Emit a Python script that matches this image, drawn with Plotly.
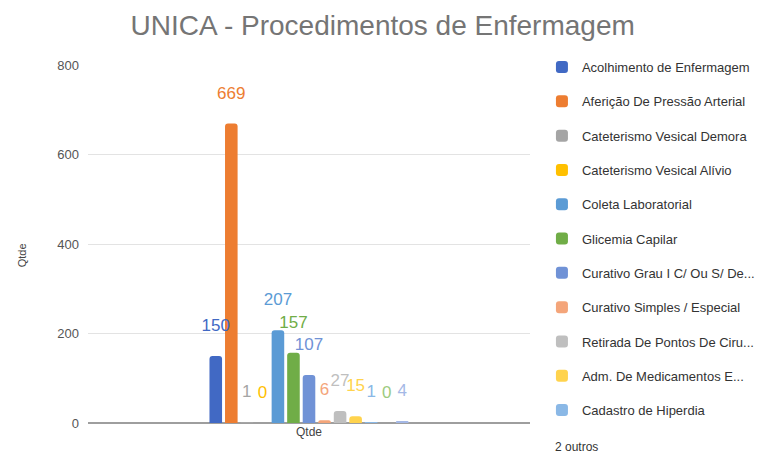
import plotly.graph_objects as go

category = ["Qtde"]
series_names = [
    "Acolhimento de Enfermagem",
    "Aferição De Pressão Arterial",
    "Cateterismo Vesical Demora",
    "Cateterismo Vesical Alívio",
    "Coleta Laboratorial",
    "Glicemia Capilar",
    "Curativo Grau I C/ Ou S/ De...",
    "Curativo Simples / Especial",
    "Retirada De Pontos De Ciru...",
    "Adm. De Medicamentos E...",
    "Cadastro de Hiperdia",
    "Outro 1",
    "Outro 2",
]
series_values = [150, 669, 1, 0, 207, 157, 107, 6, 27, 15, 1, 0, 4]
series_colors = [
    "#4169c4", "#ed7d31", "#a5a5a5", "#ffc000", "#5b9bd5", "#70ad47",
    "#7092d6", "#f4a57a", "#bfbfbf", "#ffd34d", "#8ab8e6", "#9ccb7f", "#a4b8e6",
]
shown_in_legend = 11
y_ticks = [0, 200, 400, 600, 800]

fig = go.Figure()
# visible bars
for i, (name, val, col) in enumerate(zip(series_names, series_values, series_colors)):
    fig.add_trace(go.Bar(
        x=category, y=[val], name=name, offsetgroup=f"s{i}",
        marker=dict(color=col, line=dict(width=0)),
        showlegend=i < shown_in_legend,
        legendgroup=f"g{i}",
        hoverinfo="name+y",
    ))
# value labels drawn on top of all bars
for i, (name, val, col) in enumerate(zip(series_names, series_values, series_colors)):
    fig.add_trace(go.Bar(
        x=category, y=[val], name=name, offsetgroup=f"s{i}",
        marker=dict(color="rgba(0,0,0,0)", line=dict(width=0)),
        text=[f"{val}<br><span style='font-size:1px'> </span>"], textposition="outside",
        textfont=dict(color=col, size=17, family="Liberation Sans"),
        constraintext="none", cliponaxis=False,
        showlegend=False, legendgroup=f"g{i}", hoverinfo="skip",
    ))

fig.update_layout(
    width=757, height=449,
    margin=dict(l=80, r=235, t=57, b=34, autoexpand=False),
    paper_bgcolor="white", plot_bgcolor="white",
    barmode="group", bargap=0.543, bargroupgap=0.19,
    barcornerradius=3,
    font=dict(family="Liberation Sans", color="#555555"),
    title=dict(text="UNICA - Procedimentos de Enfermagem", x=0.495, xanchor="center",
               y=0.962, yanchor="middle",
               font=dict(size=28, color="#757575", family="Liberation Sans")),
    legend=dict(x=1.027, y=1.036, xanchor="left", yanchor="top",
                traceorder="grouped", tracegroupgap=14.4, maxheight=440,
                font=dict(size=13, color="#333333", family="Liberation Sans"),
                itemclick=False, itemdoubleclick=False),
    showlegend=True,
)
fig.update_yaxes(range=[0, 800], tickvals=y_ticks, showgrid=True, gridcolor="#e3e3e3",
                 gridwidth=1, zeroline=True, zerolinecolor="#9e9e9e", zerolinewidth=2,
                 ticks="", ticklabelstandoff=8, automargin=False,
                 tickfont=dict(size=13, color="#555555"))
fig.update_xaxes(showgrid=False, showline=False, ticks="", automargin=False,
                 tickfont=dict(size=12, color="#444444"))
fig.add_annotation(text="Qtde", xref="paper", yref="paper", x=-0.149, y=0.469,
                   textangle=-90, xanchor="center", yanchor="middle", showarrow=False,
                   font=dict(size=11, color="#444444"))
fig.add_annotation(text="2 outros", xref="paper", yref="paper", x=1.052, y=-0.067,
                   xanchor="left", yanchor="middle", showarrow=False,
                   font=dict(size=12, color="#333333"))

fig.write_html("out.html")
